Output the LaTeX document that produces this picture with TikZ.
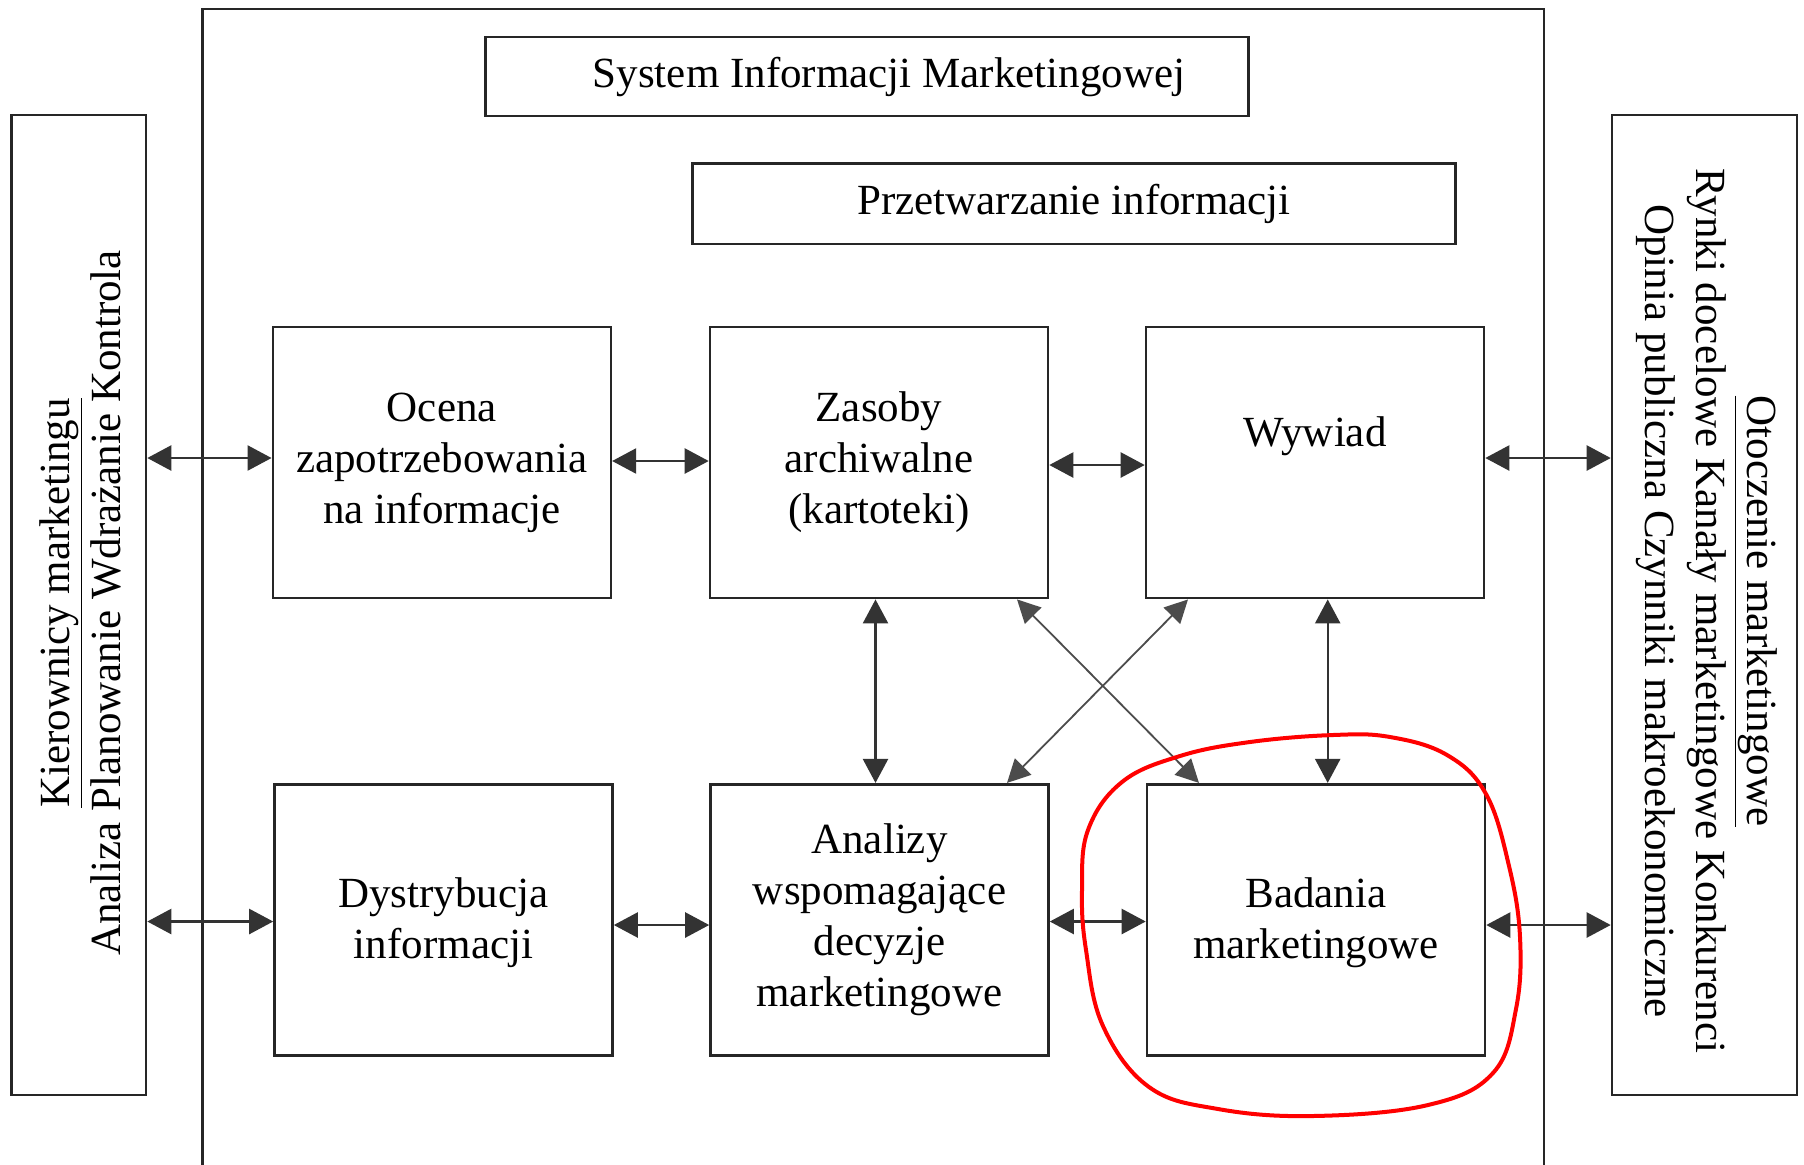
\documentclass[tikz,border=0pt]{standalone}
\usepackage{fontspec}
\setmainfont{Liberation Serif}
\usetikzlibrary{arrows.meta}
\newcommand{\mainsize}{\fontsize{21.5}{25.5}\selectfont}
\newcommand{\lowerfirst}{\rule{0pt}{18pt}}
\begin{document}
\begin{tikzpicture}[x=0.5pt,y=-0.5pt,
  box/.style={draw=black!85, line width=1.3pt, fill=white, align=center, font=\mainsize, inner sep=0pt},
  rowbox/.style={box, minimum width=169pt, minimum height=135.6pt},
  biarr/.style={draw=black!80, line width=1.2pt, {Triangle[length=12pt,width=12.5pt]}-{Triangle[length=12pt,width=12.5pt]}},
  diag/.style={draw=black!70, line width=0.9pt, {Triangle[length=11.5pt,width=11.5pt]}-{Triangle[length=11.5pt,width=11.5pt]}},
  vtext/.style={align=center, font=\mainsize, inner sep=0pt}]
\useasboundingbox (0,0) rectangle (1804,1164);
\fill[white] (0,0) rectangle (1804,1164);
% outer frame (open at the bottom)
\draw[black!85, line width=1.3pt] (202.5,1175) -- (202.5,9) -- (1544,9) -- (1544,1175);
% side boxes
\node[box, minimum width=67.25pt, minimum height=490pt] (lbox) at (78.75,605) {};
\node[vtext, rotate=90] (ltext) at (80.5,603) {\underline{Kierownicy marketingu}\\Analiza Planowanie Wdrażanie Kontrola};
\node[box, minimum width=92.5pt, minimum height=490pt] (rbox) at (1704.5,605) {};
\node[vtext, rotate=-90] (rtext) at (1707,611) {\underline{Otoczenie marketingowe}\\Rynki docelowe Kanały marketingowe Konkurenci\\Opinia publiczna Czynniki makroekonomiczne};
% title boxes
\node[box, minimum width=381.5pt, minimum height=39.5pt] (sim) at (867,76.5) {\hspace*{22pt}System Informacji Marketingowej};
\node[box, minimum width=381.5pt, minimum height=40.3pt] (prz) at (1074,203.7) {Przetwarzanie informacji};
% row 1
\node[rowbox] (ocena) at (441.85,462.5) {Ocena\\zapotrzebowania\\na informacje};
\node[rowbox] (zasoby) at (879,462.5) {Zasoby\\archiwalne\\(kartoteki)};
\node[rowbox] (wywiad) at (1315,462.5) {Wywiad\\[-2pt]\strut};
% row 2
\node[rowbox] (dys) at (443.5,919.8) {\lowerfirst Dystrybucja\\informacji};
\node[rowbox] (ana) at (879.5,919.8) {Analizy\\wspomagające\\decyzje\\marketingowe};
\node[rowbox] (bad) at (1316,919.8) {\lowerfirst Badania\\marketingowe};
% horizontal connectors, row 1
\draw[biarr] (lbox.east |- 0,458) -- (ocena.west |- 0,458);
\draw[biarr] (ocena.east |- 0,461) -- (zasoby.west |- 0,461);
\draw[biarr] (zasoby.east |- 0,465) -- (wywiad.west |- 0,465);
\draw[biarr] (wywiad.east |- 0,458) -- (rbox.west |- 0,458);
% horizontal connectors, row 2
\draw[biarr] (lbox.east |- 0,921.5) -- (dys.west |- 0,921.5);
\draw[biarr] (dys.east |- 0,925) -- (ana.west |- 0,925);
\draw[biarr] (ana.east |- 0,921.5) -- (bad.west |- 0,921.5);
\draw[biarr] (bad.east |- 0,925) -- (rbox.west |- 0,925);
% vertical connectors
\draw[biarr] (zasoby.south -| 875.5,0) -- (ana.north -| 875.5,0);
\draw[biarr] (wywiad.south -| 1327.7,0) -- (bad.north -| 1327.7,0);
% diagonal connectors
\draw[diag] (zasoby.south -| 1017,0) -- (bad.north -| 1199,0);
\draw[diag] (wywiad.south -| 1188,0) -- (ana.north -| 1007,0);
% red loop around "Badania marketingowe"
\draw[red, line width=2pt] plot[smooth cycle, tension=0.65] coordinates {
  (1333,735) (1250,742) (1180,756) (1122,782) (1088,830) (1082,890) (1086,950)
  (1103,1026) (1149,1087) (1218,1109) (1313,1116) (1428,1105) (1493,1073)
  (1516,1009) (1520,937) (1509,866) (1486,794) (1447,755) (1390,737)};
\end{tikzpicture}
\end{document}
